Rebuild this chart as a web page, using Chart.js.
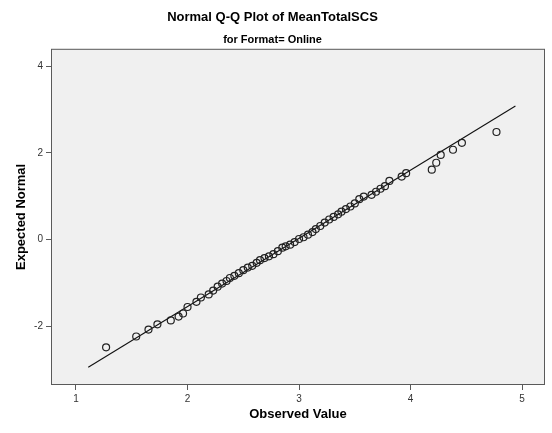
<!DOCTYPE html>
<html>
<head>
<meta charset="utf-8">
<title>Normal Q-Q Plot of MeanTotalSCS</title>
<script src="https://cdn.jsdelivr.net/npm/chart.js@4.4.1/dist/chart.umd.min.js"></script>
<style>
  body { margin: 0; background: #fff; }
  canvas { display: block; }
</style>
</head>
<body>
<canvas id="qqChart" width="552" height="433"></canvas>
<script>
const observed = [1.27, 1.54, 1.65, 1.73, 1.85, 1.92, 1.96, 2.00, 2.08, 2.12,
  2.19, 2.23, 2.27, 2.31, 2.35, 2.38, 2.42, 2.46, 2.50, 2.54,
  2.58, 2.62, 2.65, 2.69, 2.73, 2.77, 2.81, 2.85, 2.88, 2.92,
  2.96, 3.00, 3.04, 3.08, 3.12, 3.15, 3.19, 3.23, 3.27, 3.31,
  3.35, 3.38, 3.42, 3.46, 3.50, 3.54, 3.58, 3.65, 3.69, 3.73,
  3.77, 3.81, 3.92, 3.96, 4.19, 4.23, 4.27, 4.38, 4.46, 4.77];
const expected = [-2.49, -2.24, -2.08, -1.96, -1.87, -1.78, -1.71, -1.56, -1.44, -1.34,
  -1.27, -1.18, -1.09, -1.02, -0.96, -0.89, -0.84, -0.78, -0.71, -0.65,
  -0.61, -0.54, -0.48, -0.43, -0.39, -0.34, -0.27, -0.19, -0.16, -0.12,
  -0.06, 0.01, 0.05, 0.11, 0.17, 0.24, 0.31, 0.39, 0.46, 0.52,
  0.58, 0.64, 0.70, 0.76, 0.83, 0.93, 0.99, 1.03, 1.10, 1.17,
  1.23, 1.35, 1.45, 1.53, 1.61, 1.77, 1.95, 2.07, 2.23, 2.48];

// reference line ends
const lineX = [1.11, 4.94];
const lineY = [-2.95, 3.08];

const xTicks = [1, 2, 3, 4, 5];
const yTicks = [-2, 0, 2, 4];

// grey plot area with a frame, like SPSS
const plotFrame = {
  id: "plotFrame",
  beforeDatasetsDraw(chart) {
    const { ctx, chartArea: a } = chart;
    ctx.save();
    ctx.fillStyle = "#f0f0f0";
    ctx.fillRect(a.left, a.top, a.right - a.left, a.bottom - a.top);
    ctx.strokeStyle = "#5a5a5a";
    ctx.lineWidth = 1;
    ctx.strokeRect(a.left + 0.5, a.top + 0.5, a.right - a.left - 1, a.bottom - a.top - 1);
    ctx.restore();
  }
};

document.addEventListener("DOMContentLoaded", () => {
  const ctx = document.getElementById("qqChart").getContext("2d");
  const font = "Arial, 'Liberation Sans', sans-serif";

  new Chart(ctx, {
    type: "scatter",
    data: {
      datasets: [
        {
          data: observed.map((x, i) => ({ x, y: expected[i] })),
          pointRadius: 3.5,
          pointBorderWidth: 1.2,
          pointBorderColor: "#222",
          pointBackgroundColor: "rgba(0,0,0,0)"
        },
        {
          type: "line",
          data: lineX.map((x, i) => ({ x, y: lineY[i] })),
          borderColor: "#111",
          borderWidth: 1.1,
          pointRadius: 0
        }
      ]
    },
    options: {
      responsive: false,
      animation: false,
      layout: { padding: { right: 7 } },
      plugins: {
        legend: { display: false },
        tooltip: { enabled: false },
        title: {
          display: true,
          text: "Normal Q-Q Plot of MeanTotalSCS",
          color: "#000",
          font: { family: font, size: 13, weight: "bold" },
          padding: { top: 10, bottom: 5 }
        },
        subtitle: {
          display: true,
          text: "for Format= Online",
          color: "#000",
          font: { family: font, size: 11, weight: "bold" },
          padding: { top: 3, bottom: 2 }
        }
      },
      scales: {
        x: {
          type: "linear",
          min: 0.776,
          max: 5.205,
          afterBuildTicks: axis => { axis.ticks = xTicks.map(v => ({ value: v })); },
          afterFit: axis => { axis.height = 48; },
          grid: { drawOnChartArea: false, color: "#5a5a5a", tickLength: 5 },
          border: { display: false },
          ticks: { color: "#333", font: { family: font, size: 10 }, padding: 3 },
          title: {
            display: true,
            text: "Observed Value",
            color: "#000",
            font: { family: font, size: 13, weight: "bold" },
            padding: { top: 0, bottom: 11 }
          }
        },
        y: {
          type: "linear",
          min: -3.36,
          max: 4.40,
          afterBuildTicks: axis => { axis.ticks = yTicks.map(v => ({ value: v })); },
          afterFit: axis => { axis.width = 51; },
          grid: { drawOnChartArea: false, color: "#5a5a5a", tickLength: 5 },
          border: { display: false },
          ticks: { color: "#333", font: { family: font, size: 10 }, padding: 3 },
          title: {
            display: true,
            text: "Expected Normal",
            color: "#000",
            font: { family: font, size: 13, weight: "bold" },
            padding: { top: 14, bottom: 0 }
          }
        }
      }
    },
    plugins: [plotFrame]
  });
});
</script>
</body>
</html>
